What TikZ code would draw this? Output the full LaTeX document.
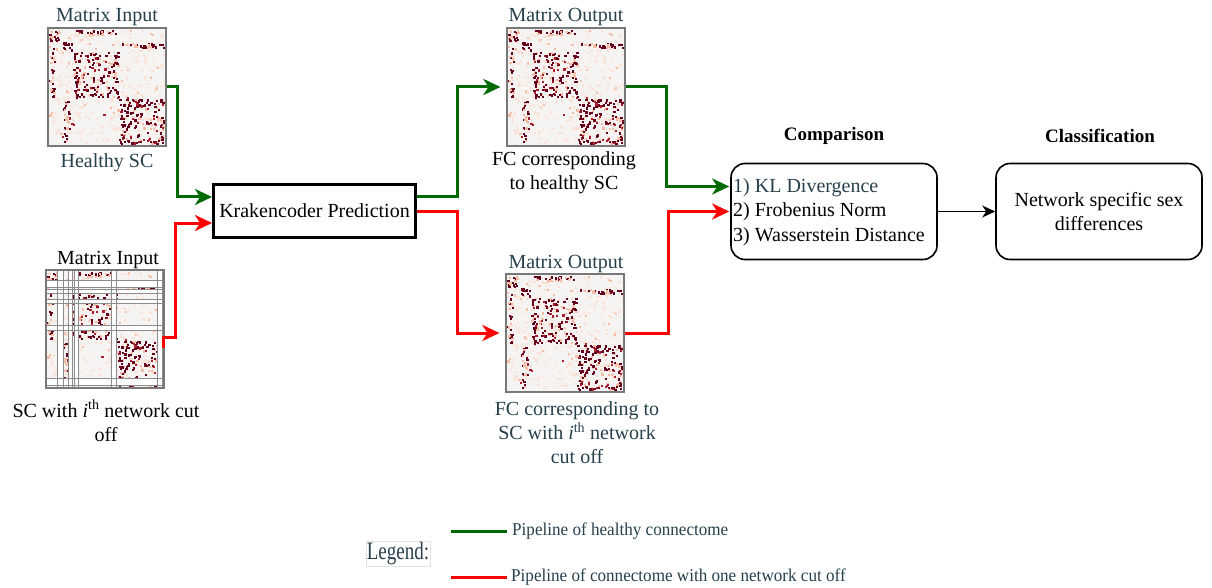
\documentclass[tikz,border=0pt]{standalone}
\usepackage{fontspec}
\usepackage{graphicx}
\setmainfont{Liberation Serif}
\usetikzlibrary{arrows.meta,calc}

\definecolor{inkdark}{RGB}{38,64,76}
\definecolor{pipegreen}{RGB}{0,105,0}
\definecolor{pipered}{RGB}{255,0,0}
\definecolor{hmbg}{RGB}{246,243,243}
\definecolor{hmdark}{RGB}{103,0,31}
\definecolor{hmred}{RGB}{170,30,45}
\definecolor{hmpeach}{RGB}{246,190,165}
\definecolor{hmpale}{RGB}{251,226,214}
\definecolor{framegray}{RGB}{120,120,120}
\definecolor{cutgray}{RGB}{140,140,140}

\ExplSyntaxOn
\NewDocumentCommand{\hmseed}{m}{\sys_gset_rand_seed:n{#1}}
\ExplSyntaxOff

% n random cells inside [xa,xb] x [ya,yb], filled with style #6
\newcommand{\rdots}[6]{%
  \foreach \k in {1,...,#1}{%
    \edef\rx{\fpeval{(#2)+((#3)-(#2))*rand()}}%
    \edef\ry{\fpeval{(#4)+((#5)-(#4))*rand()}}%
    \fill[#6] (\rx,\ry) rectangle ++(2.2,2.2);}}

% a dense block whose rim is a little denser than its interior
\newcommand{\hmblock}[4]{% x0, x1, y0, y1
  \rdots{45}{#1}{#2}{#3}{#4}{hmpeach}
  \rdots{75}{#1}{#2}{#3}{#4}{hmdark}
  \rdots{22}{#1}{#2}{#3}{#4}{hmred}
  \rdots{6}{#1}{#2}{#3}{#3+5}{hmdark}
  \rdots{6}{#1}{#2}{#4-5}{#4}{hmdark}
  \rdots{6}{#1}{#1+5}{#3}{#4}{hmdark}
  \rdots{6}{#2-5}{#2}{#3}{#4}{hmdark}}

% connectivity heat map, 118 x 118, origin at the top left corner
\newcommand{\heatmap}{%
  \fill[hmbg] (0,0) rectangle (118,118);
  \hmseed{2024}%
  \rdots{300}{1}{115}{1}{115}{hmpale}
  \rdots{50}{1}{115}{1}{115}{hmpeach}
  \rdots{12}{1}{115}{1}{115}{hmred}
  % top-left cluster
  \rdots{12}{1}{11}{2}{12}{hmdark}
  \rdots{6}{1}{11}{2}{12}{hmpeach}
  \rdots{10}{15}{23}{14}{22}{hmdark}
  % top bands
  \rdots{16}{28}{68}{2}{6}{hmdark}
  \rdots{10}{28}{68}{2}{6}{hmpeach}
  \rdots{16}{72}{115}{15}{19}{hmdark}
  \rdots{10}{72}{115}{15}{19}{hmpeach}
  % left columns
  \rdots{16}{1}{6}{16}{70}{hmdark}
  \rdots{10}{1}{6}{16}{70}{hmpeach}
  \rdots{16}{15}{21}{72}{115}{hmdark}
  \rdots{10}{15}{21}{72}{115}{hmpeach}
  % diagonal blocks
  \hmblock{25}{70}{24}{69}
  \hmblock{71}{115}{70}{115}
}

\tikzset{
  txt/.style={font=\fontsize{20}{24}\selectfont, inner sep=1pt},
  ttl/.style={font=\fontsize{19}{23}\selectfont\bfseries, inner sep=1pt},
  mat/.style={draw=framegray, line width=1.2pt, minimum size=118pt, inner sep=0pt},
  kpbox/.style={draw, line width=3pt, minimum width=202pt, minimum height=53pt, inner sep=0pt, font=\fontsize{20}{24}\selectfont},
  rbox/.style={draw, line width=1.6pt, rounded corners=14pt, minimum width=206pt, minimum height=96pt, inner sep=0pt, font=\fontsize{20}{24.5}\selectfont},
  pipetip/.style={-{Stealth[length=17pt,width=16pt,inset=5pt]}},
  gpipe/.style={draw=pipegreen, line width=3pt, pipetip},
  rpipe/.style={draw=pipered, line width=3pt, pipetip},
  flow/.style={draw=black, line width=1.3pt, -{Stealth[length=13pt,width=12pt,inset=4pt]}},
}

\begin{document}
\begin{tikzpicture}[x=1pt, y=-1pt]
\useasboundingbox (0,0) rectangle (1212,588);

% ---- heat maps ----
\begin{scope}[shift={(48,28)}] \heatmap \end{scope}
\begin{scope}[shift={(507,28)}] \heatmap \end{scope}
\begin{scope}[shift={(506,274)}] \heatmap \end{scope}
\begin{scope}[shift={(46,270)}]
  \heatmap
  % rows and columns of the removed network
  \foreach \a/\b in {11/17, 22/26, 28/32, 65/70, 111/116}
    \fill[white] (\a,0) rectangle (\b,118);
  \foreach \a/\b in {10/17, 19/23, 29/33, 55/60, 108/115}
    \fill[white] (0,\a) rectangle (118,\b);
  \foreach \a/\b in {11/17, 22/26, 28/32, 65/70, 111/116}{
    \draw[cutgray, line width=0.7pt] (\a,0) -- (\a,118) (\b,0) -- (\b,118);}
  \foreach \a/\b in {10/17, 19/23, 29/33, 55/60, 108/115}{
    \draw[cutgray, line width=0.7pt] (0,\a) -- (118,\a) (0,\b) -- (118,\b);}
\end{scope}

\node[mat] (m1) at (107,87) {};
\node[mat] (m2) at (105,329) {};
\node[mat] (m3) at (566,87) {};
\node[mat] (m4) at (565,333) {};

% ---- labels of the matrices ----
\node[txt, text=inkdark] (t1) at (107,17) {Matrix Input};
\node[txt, text=inkdark] (t2) at (107,163) {Healthy SC};
\node[txt] (t3) at (108,260) {Matrix Input};
\node[txt, align=center] (t4) at (106,421) {SC with \textit{i}\textsuperscript{th} network cut\\off};
\node[txt, text=inkdark] (t5) at (566,17) {Matrix Output};
\node[txt, align=center] (t6) at (564,173) {FC corresponding\\to healthy SC};
\node[txt, text=inkdark] (t7) at (566,264) {Matrix Output};
\node[txt, text=inkdark, align=center] (t8) at (577,433) {FC corresponding to\\SC with \textit{i}\textsuperscript{th} network\\cut off};

% ---- processing boxes ----
\node[kpbox] (kp) at (314.5,211) {Krakencoder Prediction};
\node[rbox] (cmp) at (834,211.5) {};
\node[txt, align=left, anchor=west, font=\fontsize{20}{24.5}\selectfont] (cmptxt) at (732,212)
  {\textcolor{inkdark}{1) KL Divergence}\\2) Frobenius Norm\\3) Wasserstein Distance};
\node[rbox, align=center] (cls) at (1099,211.5) {Network specific sex\\differences};
\node[ttl] (cmpttl) at (834,136) {Comparison};
\node[ttl] (clsttl) at (1100,136) {Classification};

% ---- healthy pipeline ----
\draw[gpipe] (m1.east) -- ++(11,0) |- ($(kp.west)+(0,-14)$);
\draw[gpipe, shorten >=6pt] ($(kp.east)+(0,-14)$) -- ++(40,0) |- (m3.west);
\draw[gpipe, shorten >=1pt] (m3.east) -- ++(41,0) |- ($(cmp.west)+(0,-25)$);

% ---- cut-off pipeline ----
\draw[rpipe] ($(m2.east)+(-1,19)$) -- ++(0,-11) -- ++(12,0) |- ($(kp.west)+(0,12)$);
\draw[rpipe, shorten >=6pt] (kp.east) -- ++(40,0) |- (m4.west);
\draw[rpipe, shorten >=1pt] (m4.east) -- ++(44,0) |- (cmp.west);

\draw[flow] (cmp.east) -- (cls.west);

% ---- legend ----
\node[font=\fontsize{25}{28}\selectfont, text=inkdark, draw=gray!22, line width=0.4pt, inner sep=1pt] (lg) at (398,554) {\scalebox{0.76}[1]{Legend:}};
\coordinate (lgA) at (451,531);
\coordinate (lgB) at (507,531);
\coordinate (lgC) at (451,577);
\coordinate (lgD) at (507,577);
\draw[draw=pipegreen, line width=3pt] (lgA) -- (lgB);
\draw[draw=pipered, line width=3pt] (lgC) -- (lgD);
\node[anchor=west, inner sep=1pt, text=inkdark, font=\fontsize{18}{21}\selectfont] (lgt1) at ($(lgB)+(4,0)$) {\scalebox{0.95}[1]{Pipeline of healthy connectome}};
\node[anchor=west, inner sep=1pt, text=inkdark, font=\fontsize{18}{21}\selectfont] (lgt2) at ($(lgD)+(3,0)$) {\scalebox{0.95}[1]{Pipeline of connectome with one network cut off}};
\end{tikzpicture}
\end{document}
